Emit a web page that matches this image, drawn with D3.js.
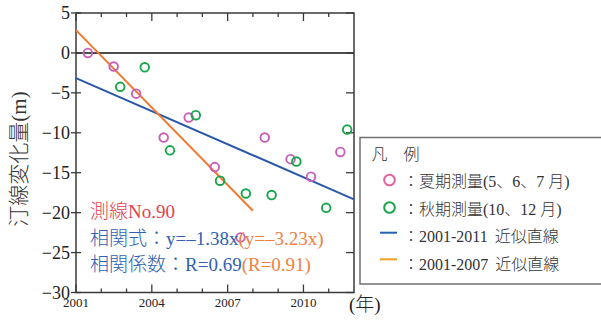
<!DOCTYPE html>
<html>
<head>
<meta charset="utf-8">
<script src="https://cdn.jsdelivr.net/npm/d3@7"></script>
<style>
  html, body { margin: 0; padding: 0; background: #fff; }
  svg { display: block; }
  text { font-family: "Liberation Serif", "Noto Sans CJK JP", serif; font-weight: 300; }
</style>
</head>
<body>
<svg id="chart" width="601" height="320"></svg>
<script>
// Summer surveys (May–July)
const summerYears  = [2001.47, 2002.49, 2003.38, 2004.47, 2005.46, 2006.49, 2007.51, 2008.47, 2009.49, 2010.30, 2011.46];
const summerValues = [0, -1.7, -5.1, -10.6, -8.1, -14.3, -23.1, -10.6, -13.3, -15.5, -12.4];
// Autumn surveys (October, December)
const autumnYears  = [2002.75, 2003.72, 2004.72, 2005.74, 2006.70, 2007.72, 2008.74, 2009.72, 2010.90, 2011.73];
const autumnValues = [-4.25, -1.8, -12.2, -7.8, -16.0, -17.6, -17.8, -13.6, -19.4, -9.6];
// Fitted trend lines: slope per year, value at 2001, span
const fitSlopes     = [-1.38, -3.23];
const fitIntercepts = [-3.15, 2.85];
const fitSpans      = [[2001, 2012], [2001, 2008]];
const fitR          = [0.69, 0.91];
// Axis ticks
const yTicks = [5, 0, -5, -10, -15, -20, -25, -30];
const yearTicks = [2001, 2002, 2003, 2004, 2005, 2006, 2007, 2008, 2009, 2010, 2011];
const yearLabels = [2001, 2004, 2007, 2010];

const svg = d3.select("#chart");
const L = 76, R = 354, T = 13, B = 292.5;
const x = d3.scaleLinear().domain([2001, 2012]).range([L, R]);
const y = d3.scaleLinear().domain([-30, 5]).range([B, T]);

const axisColor = "#3a3a3a";
const pink = "#c95fb8", green = "#19a64a", blue = "#2a58a8", orange = "#f07a30";

// Zero line
svg.append("line").attr("x1", L).attr("x2", R).attr("y1", y(0)).attr("y2", y(0))
  .attr("stroke", "#111").attr("stroke-width", 1.5);

// Year ticks on top and bottom, pointing inward
const g = svg.append("g").attr("stroke", axisColor).attr("stroke-width", 1.3);
yearTicks.forEach(t => {
  const len = yearLabels.includes(t) ? 8 : 4;
  g.append("line").attr("x1", x(t)).attr("x2", x(t)).attr("y1", B).attr("y2", B - len);
  g.append("line").attr("x1", x(t)).attr("x2", x(t)).attr("y1", T).attr("y2", T + len);
});
// Value ticks: crossing on the left, inward on the right
yTicks.forEach(v => {
  g.append("line").attr("x1", L - 5).attr("x2", L + 5).attr("y1", y(v)).attr("y2", y(v));
  g.append("line").attr("x1", R).attr("x2", R - 8).attr("y1", y(v)).attr("y2", y(v));
});
// Frame
svg.append("rect").attr("x", L).attr("y", T).attr("width", R - L).attr("height", B - T)
  .attr("fill", "none").attr("stroke", axisColor).attr("stroke-width", 1.5);

// Tick labels
svg.append("g").selectAll("text").data(yTicks).join("text")
  .attr("x", 70).attr("y", d => y(d)).attr("dy", "0.34em")
  .attr("text-anchor", "end").attr("font-size", 18).attr("fill", "#222")
  .text(d => d < 0 ? "\u2212" + Math.abs(d) : d);
svg.append("g").selectAll("text").data(yearLabels).join("text")
  .attr("x", d => x(d)).attr("y", 307)
  .attr("text-anchor", "middle").attr("font-size", 13).attr("fill", "#222")
  .text(d => d);
svg.append("text").attr("x", 349).attr("y", 311).attr("font-size", 19).attr("fill", "#222").text("(年)");

// Y axis title
svg.append("text").attr("transform", "translate(19,159) rotate(-90)")
  .attr("text-anchor", "middle").attr("dy", "0.35em").attr("font-size", 21).attr("fill", "#333")
  .text("汀線変化量(m)");

// Trend lines
const fitColors = [blue, orange];
fitSlopes.forEach((s, i) => {
  const f = t => fitIntercepts[i] + s * (t - 2001);
  const [a, b] = fitSpans[i];
  svg.append("line").attr("x1", x(a)).attr("y1", y(f(a))).attr("x2", x(b)).attr("y2", y(f(b)))
    .attr("stroke", fitColors[i]).attr("stroke-width", 2);
});

// Survey points
const drawPoints = (xs, vs, color) => svg.append("g").selectAll("circle")
  .data(xs.map((t, i) => [t, vs[i]])).join("circle")
  .attr("cx", d => x(d[0])).attr("cy", d => y(d[1])).attr("r", 4.3)
  .attr("fill", "none").attr("stroke", color).attr("stroke-width", 1.9);
drawPoints(summerYears, summerValues, pink);
drawPoints(autumnYears, autumnValues, green);

// Annotation
svg.append("text").attr("x", 90).attr("y", 218).attr("font-size", 19).attr("fill", "#e8404c").text("測線No.90");
const eq = svg.append("text").attr("x", 90).attr("y", 245).attr("font-size", 19);
eq.append("tspan").attr("fill", "#3062b0").text("相関式：y=–" + Math.abs(fitSlopes[0]).toFixed(2) + "x");
eq.append("tspan").attr("fill", "#f08040").text("(y=–" + Math.abs(fitSlopes[1]).toFixed(2) + "x)");
const rr = svg.append("text").attr("x", 90).attr("y", 271).attr("font-size", 19);
rr.append("tspan").attr("fill", "#3062b0").text("相関係数：R=" + fitR[0].toFixed(2));
rr.append("tspan").attr("fill", "#f08040").text("(R=" + fitR[1].toFixed(2) + ")");

// Legend
svg.append("rect").attr("x", 360).attr("y", 137.5).attr("width", 260).attr("height", 146.5)
  .attr("fill", "#fff").attr("stroke", "#707070").attr("stroke-width", 1.5);
svg.append("text").attr("x", 371.5).attr("y", 159.5).attr("font-size", 16).attr("fill", "#333").text("凡　例");
const lg = svg.append("g").attr("font-size", 16).attr("fill", "#333");
lg.append("circle").attr("cx", 389.5).attr("cy", 180).attr("r", 5.3)
  .attr("fill", "none").attr("stroke", "#e8609e").attr("stroke-width", 2);
lg.append("circle").attr("cx", 389.5).attr("cy", 207.5).attr("r", 5.3)
  .attr("fill", "none").attr("stroke", green).attr("stroke-width", 2);
lg.append("line").attr("x1", 380).attr("x2", 397).attr("y1", 232.7).attr("y2", 232.7)
  .attr("stroke", "#2262b4").attr("stroke-width", 2);
lg.append("line").attr("x1", 380).attr("x2", 397).attr("y1", 259.3).attr("y2", 259.3)
  .attr("stroke", "#f5a024").attr("stroke-width", 2);
lg.append("text").attr("x", 403).attr("y", 187).text("：夏期測量(5、6、7 月)");
lg.append("text").attr("x", 403).attr("y", 214.5).text("：秋期測量(10、12 月)");
const t3 = lg.append("text").attr("x", 403).attr("y", 242);
t3.append("tspan").text("：2001-2011");
t3.append("tspan").attr("dx", 7).text("近似直線");
const t4 = lg.append("text").attr("x", 403).attr("y", 269.5);
t4.append("tspan").text("：2001-2007");
t4.append("tspan").attr("dx", 7).text("近似直線");
</script>
</body>
</html>
